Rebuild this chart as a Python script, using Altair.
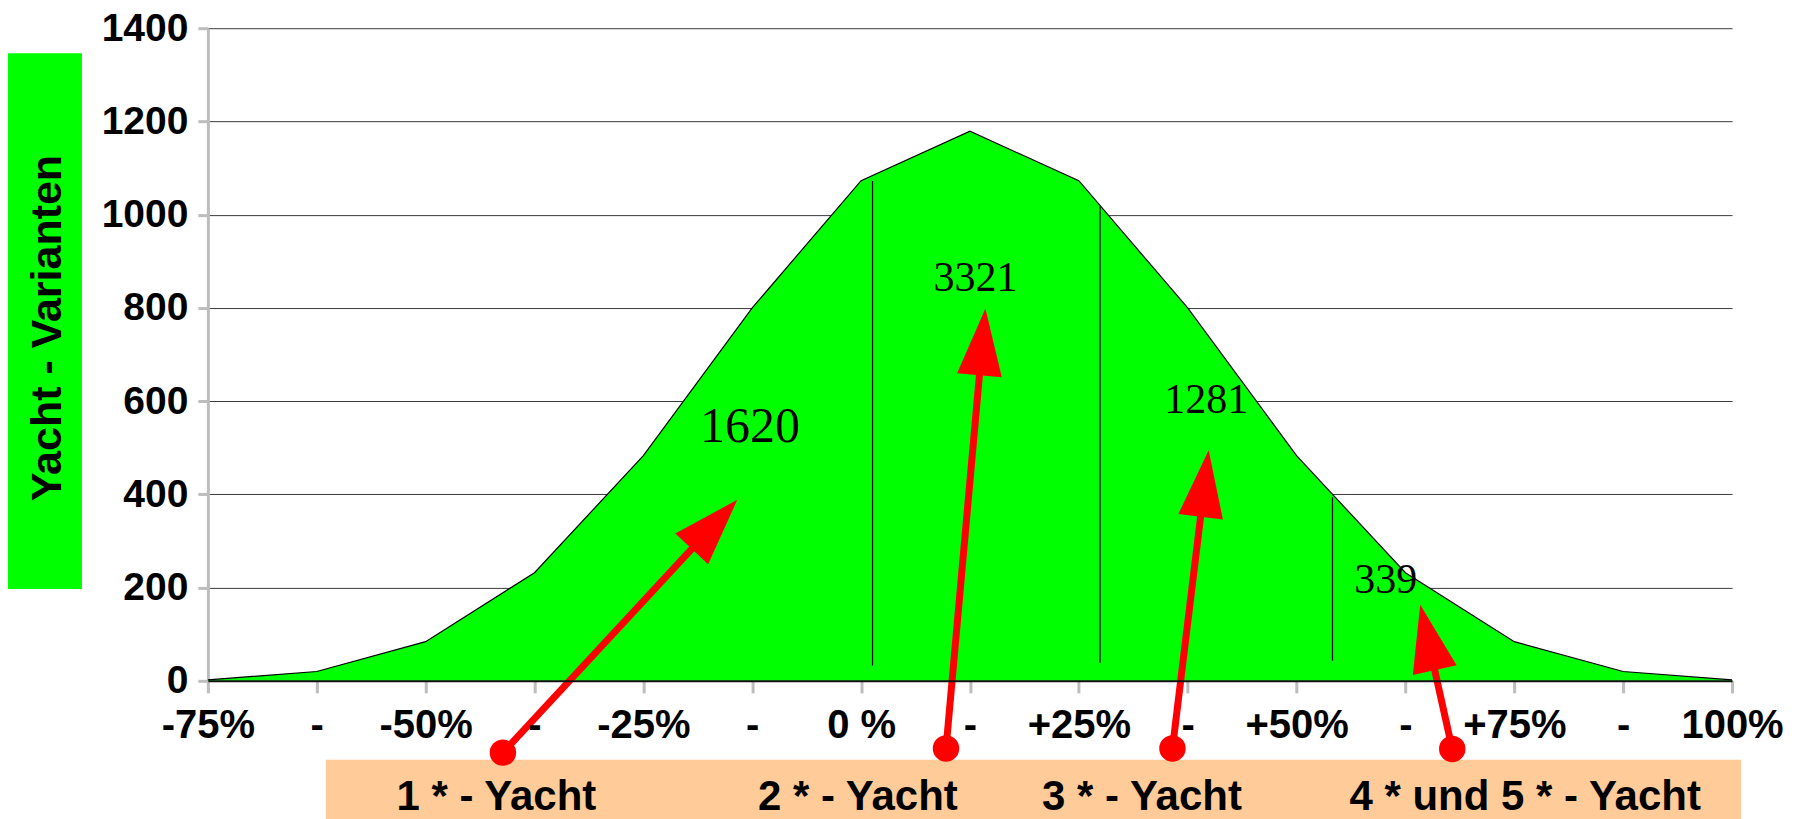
import altair as alt
import pandas as pd

# ---------------- data ----------------
categories = ["-75%", "-", "-50%", "-", "-25%", "-", "0 %", "-", "+25%", "-",
              "+50%", "-", "+75%", "-", "100%"]
counts = [2, 20, 84, 232, 483, 800, 1073, 1179, 1073, 800, 483, 232, 84, 20, 2]

# separators between yacht classes (category position, bottom value, top value)
sep_pos = [6.105, 8.195, 10.33]
sep_bottom = [33, 39, 43]
sep_top = [1072, 1018, 394]

# totals per class
total_labels = ["1620", "3321", "1281", "339"]
total_x = [4.98, 7.05, 9.17, 10.82]
total_y = [545, 864, 602, 217]
total_size = [50, 42, 42, 42]

# class captions
class_labels = ["1 * - Yacht", "2 * - Yacht", "3 * - Yacht", "4 * und 5 * - Yacht"]
class_x = [2.65, 5.97, 8.58, 12.10]
class_y = [-278, -278, -278, -278]

# arrows (start at the caption dot, end in the class area)
arrow_start_x = [2.71, 6.78, 8.86, 11.43]
arrow_start_y = [-154, -145, -145, -146]
arrow_end_x = [4.758, 7.128, 9.174, 11.169]
arrow_end_y = [362, 763, 459, 128]
arrow_angle = [42.9, 5.1, 6.9, 347.5]

# ---------------- tables ----------------
df_area = pd.DataFrame({"i": list(range(len(counts))), "v": counts})
df_sep = pd.DataFrame({"x": sep_pos, "y": sep_bottom, "y2": sep_top})
df_tot = pd.DataFrame({"x": total_x, "y": total_y, "t": total_labels, "fs": total_size})
df_cls = pd.DataFrame({"x": class_x, "y": class_y, "t": class_labels})
df_arr = pd.DataFrame({"sx": arrow_start_x, "sy": arrow_start_y,
                       "ex": arrow_end_x, "ey": arrow_end_y, "ang": arrow_angle})
df_one = pd.DataFrame({"a": [0]})

W, H = 1525, 653
SANS = "Liberation Sans"
SERIF = "Liberation Serif"
RED = "#ff0000"

xs = alt.Scale(domain=[0, 14], nice=False, zero=False)
ys = alt.Scale(domain=[0, 1400], nice=False, zero=False)
label_expr = "[" + ",".join("'" + c + "'" for c in categories) + "][datum.value]"

x_axis = alt.Axis(values=list(range(len(categories))), labelExpr=label_expr, title=None,
                  grid=False, domainColor="#111111", domainWidth=2,
                  tickColor="#bdbdbd", tickWidth=3, tickSize=12,
                  labelFontSize=40, labelFont=SANS, labelFontWeight="bold",
                  labelColor="black", labelPadding=13, labelFlush=False,
                  labelOverlap=False, zindex=1)
y_axis = alt.Axis(values=list(range(0, 1401, 200)), format="d", title=None, grid=True,
                  gridColor="#3a3a3a", gridWidth=1,
                  domainColor="#bdbdbd", domainWidth=3,
                  tickColor="#bdbdbd", tickWidth=3, tickSize=10,
                  labelFontSize=39, labelFont=SANS, labelFontWeight="bold",
                  labelColor="black", labelPadding=10, zindex=0)

green_box = alt.Chart(df_one).mark_rect(color="#00ff00").encode(
    x=alt.value(-200), x2=alt.value(-126), y=alt.value(25), y2=alt.value(561))
y_title = alt.Chart(df_one).mark_text(
    text="Yacht - Varianten", angle=270, font=SANS, fontWeight="bold", fontSize=43,
    color="black", align="center", baseline="middle").encode(
    x=alt.value(-160), y=alt.value(300))

orange_box = alt.Chart(df_one).mark_rect(color="#ffcc99").encode(
    x=alt.value(118), x2=alt.value(1534), y=alt.value(732), y2=alt.value(800))

area = alt.Chart(df_area).mark_area(
    color="#00ff00", opacity=1, line={"color": "black", "strokeWidth": 1.2}).encode(
    x=alt.X("i:Q", scale=xs, axis=x_axis),
    y=alt.Y("v:Q", scale=ys, axis=y_axis))

seps = alt.Chart(df_sep).mark_rule(color="black", strokeWidth=1.2).encode(
    x=alt.X("x:Q", scale=xs), y=alt.Y("y:Q", scale=ys), y2="y2:Q")

totals = alt.Chart(df_tot).mark_text(font=SERIF, color="black", align="center",
                                     baseline="middle").encode(
    x=alt.X("x:Q", scale=xs), y=alt.Y("y:Q", scale=ys), text="t:N",
    size=alt.Size("fs:Q", scale=None, legend=None))

captions = alt.Chart(df_cls).mark_text(font=SANS, fontWeight="bold", fontSize=42,
                                       color="black", align="center",
                                       baseline="alphabetic").encode(
    x=alt.X("x:Q", scale=xs), y=alt.Y("y:Q", scale=ys), text="t:N")

shafts = alt.Chart(df_arr).mark_rule(color=RED, strokeWidth=7).encode(
    x=alt.X("sx:Q", scale=xs), y=alt.Y("sy:Q", scale=ys), x2="ex:Q", y2="ey:Q")

heads = alt.Chart(df_arr).mark_point(
    shape="M0,-0.5L0.67,1.5L-0.67,1.5Z", filled=True, size=4489, color=RED,
    opacity=1, strokeWidth=0).encode(
    x=alt.X("ex:Q", scale=xs), y=alt.Y("ey:Q", scale=ys),
    angle=alt.Angle("ang:Q", scale=None))

dots = alt.Chart(df_arr).mark_circle(size=700, color=RED, opacity=1).encode(
    x=alt.X("sx:Q", scale=xs), y=alt.Y("sy:Q", scale=ys))

chart = alt.layer(green_box, y_title, orange_box, area, seps, totals, captions,
                  shafts, heads, dots).properties(
    width=W, height=H,
    padding={"left": 200, "top": 20, "right": 60, "bottom": 138},
    autosize=alt.AutoSizeParams(type="none"),
    background="white",
).configure_view(stroke="transparent")

chart.save("out.html", embed_options={"renderer": "svg", "actions": False})
